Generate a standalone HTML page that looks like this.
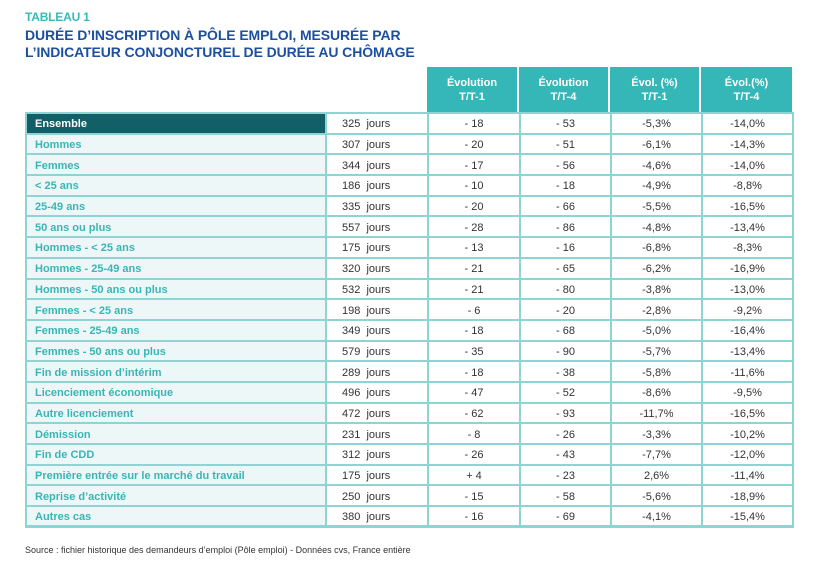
<!DOCTYPE html>
<html><head><meta charset="utf-8"><style>
*{margin:0;padding:0;box-sizing:border-box}
body{width:815px;height:566px;background:#fff;position:relative;font-family:"Liberation Sans",sans-serif;overflow:hidden}
.t1{position:absolute;left:25px;top:10px;font-size:12px;font-weight:bold;color:#3cb8b8;letter-spacing:-0.2px}
.t2{position:absolute;left:25px;top:27px;font-size:14px;font-weight:bold;color:#1d4fa0;line-height:17px;letter-spacing:-0.1px}
.hd{position:absolute;top:67px;height:45px;background:#35b7b7;color:#fff;font-weight:bold;font-size:11px;text-align:center;line-height:14px;padding-top:9px;border-right:2px solid #fff}
table{position:absolute;left:25px;top:112px;border-collapse:collapse;table-layout:fixed;width:767px;border-bottom:3px solid #8fd4d4}
td{height:20.7px;border:2px solid #8fd4d4;font-size:11px;line-height:13px;color:#333;text-align:center;padding:3px 0 0 0;vertical-align:middle;white-space:nowrap}
td.l{text-align:left;padding-left:8px;background:#eef7f8;color:#3ab5b5;font-weight:bold;font-size:11px}
tr.e td.l{background:#135f68;color:#fff}
td.j{text-align:left;padding-left:15px}
.src{position:absolute;left:25px;top:545px;font-size:9px;color:#333}
</style></head><body>
<div class="t1">TABLEAU 1</div>
<div class="t2">DURÉE D’INSCRIPTION À PÔLE EMPLOI, MESURÉE PAR<br>L’INDICATEUR CONJONCTUREL DE DURÉE AU CHÔMAGE</div>
<div class="hd" style="left:427px;width:92px">Évolution<br>T/T-1</div>
<div class="hd" style="left:519px;width:91px">Évolution<br>T/T-4</div>
<div class="hd" style="left:610px;width:91px">Évol. (%)<br>T/T-1</div>
<div class="hd" style="left:701px;width:91px;border-right:none">Évol.(%)<br>T/T-4</div>
<table>
<colgroup><col style="width:300px"><col style="width:102px"><col style="width:92px"><col style="width:91px"><col style="width:91px"><col style="width:91px"></colgroup>
<tr class="e"><td class="l">Ensemble</td><td class="j">325&nbsp; jours</td><td>- 18</td><td>- 53</td><td>-5,3%</td><td>-14,0%</td></tr>
<tr><td class="l">Hommes</td><td class="j">307&nbsp; jours</td><td>- 20</td><td>- 51</td><td>-6,1%</td><td>-14,3%</td></tr>
<tr><td class="l">Femmes</td><td class="j">344&nbsp; jours</td><td>- 17</td><td>- 56</td><td>-4,6%</td><td>-14,0%</td></tr>
<tr><td class="l">&lt; 25 ans</td><td class="j">186&nbsp; jours</td><td>- 10</td><td>- 18</td><td>-4,9%</td><td>-8,8%</td></tr>
<tr><td class="l">25-49 ans</td><td class="j">335&nbsp; jours</td><td>- 20</td><td>- 66</td><td>-5,5%</td><td>-16,5%</td></tr>
<tr><td class="l">50 ans ou plus</td><td class="j">557&nbsp; jours</td><td>- 28</td><td>- 86</td><td>-4,8%</td><td>-13,4%</td></tr>
<tr><td class="l">Hommes - &lt; 25 ans</td><td class="j">175&nbsp; jours</td><td>- 13</td><td>- 16</td><td>-6,8%</td><td>-8,3%</td></tr>
<tr><td class="l">Hommes - 25-49 ans</td><td class="j">320&nbsp; jours</td><td>- 21</td><td>- 65</td><td>-6,2%</td><td>-16,9%</td></tr>
<tr><td class="l">Hommes - 50 ans ou plus</td><td class="j">532&nbsp; jours</td><td>- 21</td><td>- 80</td><td>-3,8%</td><td>-13,0%</td></tr>
<tr><td class="l">Femmes - &lt; 25 ans</td><td class="j">198&nbsp; jours</td><td>- 6</td><td>- 20</td><td>-2,8%</td><td>-9,2%</td></tr>
<tr><td class="l">Femmes - 25-49 ans</td><td class="j">349&nbsp; jours</td><td>- 18</td><td>- 68</td><td>-5,0%</td><td>-16,4%</td></tr>
<tr><td class="l">Femmes - 50 ans ou plus</td><td class="j">579&nbsp; jours</td><td>- 35</td><td>- 90</td><td>-5,7%</td><td>-13,4%</td></tr>
<tr><td class="l">Fin de mission d’intérim</td><td class="j">289&nbsp; jours</td><td>- 18</td><td>- 38</td><td>-5,8%</td><td>-11,6%</td></tr>
<tr><td class="l">Licenciement économique</td><td class="j">496&nbsp; jours</td><td>- 47</td><td>- 52</td><td>-8,6%</td><td>-9,5%</td></tr>
<tr><td class="l">Autre licenciement</td><td class="j">472&nbsp; jours</td><td>- 62</td><td>- 93</td><td>-11,7%</td><td>-16,5%</td></tr>
<tr><td class="l">Démission</td><td class="j">231&nbsp; jours</td><td>- 8</td><td>- 26</td><td>-3,3%</td><td>-10,2%</td></tr>
<tr><td class="l">Fin de CDD</td><td class="j">312&nbsp; jours</td><td>- 26</td><td>- 43</td><td>-7,7%</td><td>-12,0%</td></tr>
<tr><td class="l">Première entrée sur le marché du travail</td><td class="j">175&nbsp; jours</td><td>+ 4</td><td>- 23</td><td>2,6%</td><td>-11,4%</td></tr>
<tr><td class="l">Reprise d’activité</td><td class="j">250&nbsp; jours</td><td>- 15</td><td>- 58</td><td>-5,6%</td><td>-18,9%</td></tr>
<tr><td class="l">Autres cas</td><td class="j">380&nbsp; jours</td><td>- 16</td><td>- 69</td><td>-4,1%</td><td>-15,4%</td></tr>
</table>
<div class="src">Source : fichier historique des demandeurs d’emploi (Pôle emploi) - Données cvs, France entière</div>
</body></html>
